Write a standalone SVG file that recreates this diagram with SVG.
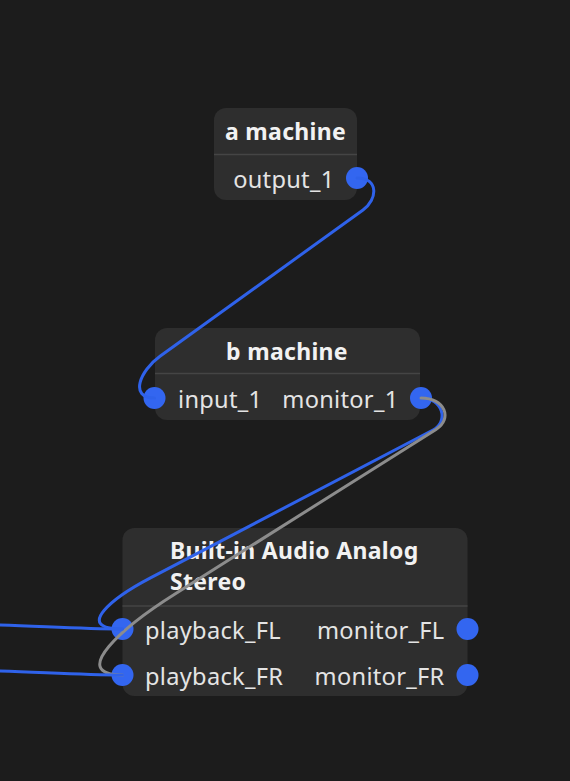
<svg xmlns="http://www.w3.org/2000/svg" width="570" height="781" viewBox="0 0 570 781">
<defs>
<style>
.node{fill:#2e2e2e}
.sep{stroke:#454545;stroke-width:1.5}
.title{font-family:"Noto Sans","DejaVu Sans",sans-serif;font-weight:bold;font-size:23px;letter-spacing:0.3px;fill:#f2f2f2}
.port{font-family:"Noto Sans","DejaVu Sans",sans-serif;font-size:23.6px;letter-spacing:0.3px;fill:#e4e4e4}
.dot{fill:#3366f0}
.link{fill:none;stroke-width:3;stroke-linecap:round}
.blue{stroke:#2f62ea}
.gray{stroke:#8c8c8c}
</style>
</defs>
<rect width="570" height="781" fill="#1c1c1c"/>
<g id="node-a">
<rect class="node" x="214" y="108" width="143" height="92" rx="12"/>
<line class="sep" x1="214" y1="154.5" x2="357" y2="154.5"/>
<text class="title" x="285.5" y="139.5" text-anchor="middle">a machine</text>
<text class="port" x="334.5" y="187.5" text-anchor="end">output_1</text>
<circle class="dot" cx="357" cy="178" r="11"/>
</g>
<g id="node-b">
<rect class="node" x="155" y="328" width="265" height="92" rx="12"/>
<line class="sep" x1="155" y1="373.5" x2="420" y2="373.5"/>
<text class="title" x="287" y="359.5" text-anchor="middle">b machine</text>
<text class="port" x="178" y="407.5">input_1</text>
<text class="port" x="398.5" y="407.5" text-anchor="end">monitor_1</text>
<circle class="dot" cx="154.5" cy="398" r="11"/>
<circle class="dot" cx="421" cy="398" r="11"/>
</g>
<g id="node-c">
<rect class="node" x="122.5" y="528" width="345" height="168" rx="12"/>
<line class="sep" x1="122.5" y1="606" x2="467.5" y2="606"/>
<text class="title" x="170" y="558.5">Built-in Audio Analog</text>
<text class="title" x="170" y="590">Stereo</text>
<text class="port" x="145" y="638.5">playback_FL</text>
<text class="port" x="145" y="684.5">playback_FR</text>
<text class="port" x="444.5" y="638.5" text-anchor="end">monitor_FL</text>
<text class="port" x="444.5" y="684.5" text-anchor="end">monitor_FR</text>
<circle class="dot" cx="122.5" cy="629" r="11"/>
<circle class="dot" cx="122.5" cy="675" r="11"/>
<circle class="dot" cx="467.5" cy="629" r="11"/>
<circle class="dot" cx="467.5" cy="675" r="11"/>
</g>
<g id="connectors">
<path class="link blue" d="M357,178 C379,178 377.6,199.5 363,210 L160,356.3 C139.7,370.9 129,398 154.5,398"/>
<path class="link blue" d="M421,398 C443,398 449,421.6 433,430 L150,578.2 C114.6,596.8 72,629 122.5,629"/>
<path class="link gray" d="M421,398 C445,398 452.9,418.7 436,429.4 L175,593.9 C124.2,625.9 67,675 122.5,675"/>
<path class="link blue" d="M-5,624.8 C40,626 80,629 122.5,629"/>
<path class="link blue" d="M-5,670.8 C40,672 80,675 122.5,675"/>
</g>
</svg>
